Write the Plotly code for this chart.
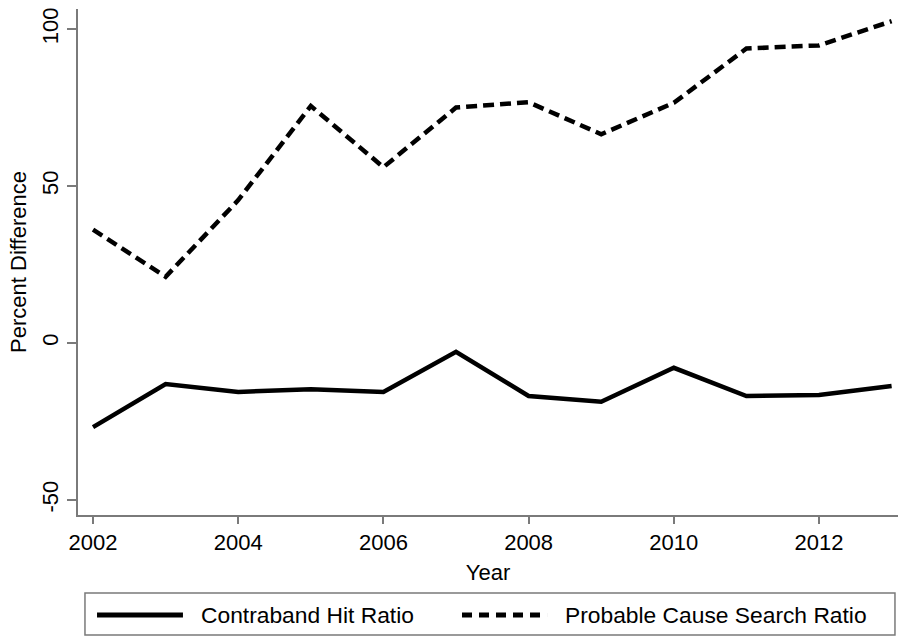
import plotly.graph_objects as go

years = list(range(2002, 2014))
contraband_hit = [-26.8, -13.1, -15.6, -14.7, -15.6, -2.8, -16.9, -18.7, -7.9, -16.9, -16.6, -13.7]
probable_cause = [36.1, 21.1, 45.5, 75.5, 56.0, 75.0, 76.7, 66.5, 76.5, 93.8, 94.8, 102.5]
x_ticks = [2002, 2004, 2006, 2008, 2010, 2012]
y_ticks = [-50, 0, 50, 100]
legend_labels = ["Contraband Hit Ratio", "Probable Cause Search Ratio"]

FONT = "Liberation Sans, Arial, Helvetica, sans-serif"
AXIS_COLOR = "#7a7a7a"

fig = go.Figure()
fig.add_trace(go.Scatter(x=years, y=contraband_hit, mode="lines", name=legend_labels[0],
                         line=dict(color="black", width=4.5), showlegend=False))
fig.add_trace(go.Scatter(x=years, y=probable_cause, mode="lines", name=legend_labels[1],
                         line=dict(color="black", width=4.5, dash="11px,6px"), showlegend=False))

# custom legend box (paper coordinates)
fig.add_shape(type="rect", xref="paper", yref="paper", x0=0.0085, x1=0.9963, y0=-0.2372, y1=-0.1542,
              line=dict(color=AXIS_COLOR, width=1.5), fillcolor="white")
fig.add_shape(type="line", xref="paper", yref="paper", x0=0.0232, x1=0.128, y0=-0.1976, y1=-0.1976,
              line=dict(color="black", width=5))
fig.add_shape(type="line", xref="paper", yref="paper", x0=0.4683, x1=0.5720, y0=-0.1976, y1=-0.1976,
              line=dict(color="black", width=5, dash="10px,7px"))
fig.add_annotation(xref="paper", yref="paper", x=0.1476, y=-0.1976, text=legend_labels[0],
                   showarrow=False, xanchor="left", yanchor="middle",
                   font=dict(family=FONT, size=22.8, color="black"))
fig.add_annotation(xref="paper", yref="paper", x=0.5915, y=-0.1976, text=legend_labels[1],
                   showarrow=False, xanchor="left", yanchor="middle",
                   font=dict(family=FONT, size=22.8, color="black"))

fig.update_layout(
    width=898, height=637,
    margin=dict(l=78, r=0, t=9, b=122),
    paper_bgcolor="white", plot_bgcolor="white",
    font=dict(family=FONT, size=22, color="black"),
    showlegend=False,
)
fig.update_xaxes(
    range=[2001.793, 2013.088], tickvals=x_ticks, ticktext=[str(v) for v in x_ticks],
    showgrid=False, zeroline=False, showline=True, linecolor=AXIS_COLOR, linewidth=2,
    ticks="outside", ticklen=7, tickwidth=2, tickcolor=AXIS_COLOR,
    tickfont=dict(family=FONT, size=22, color="black"),
    title=dict(text="Year", font=dict(family=FONT, size=22, color="black"), standoff=10),
)
fig.update_yaxes(
    range=[-54.8, 106.4], tickvals=y_ticks, ticktext=[str(v) for v in y_ticks],
    showgrid=False, zeroline=False, showline=True, linecolor=AXIS_COLOR, linewidth=2,
    ticks="outside", ticklen=9, tickwidth=2, tickcolor=AXIS_COLOR, tickangle=-90,
    tickfont=dict(family=FONT, size=22, color="black"),
    title=dict(text="Percent Difference", font=dict(family=FONT, size=22, color="black"), standoff=6),
)

fig.write_html("out.html", config={"displayModeBar": False},
               post_script="document.body.style.margin='0';document.body.style.overflow='hidden';")
